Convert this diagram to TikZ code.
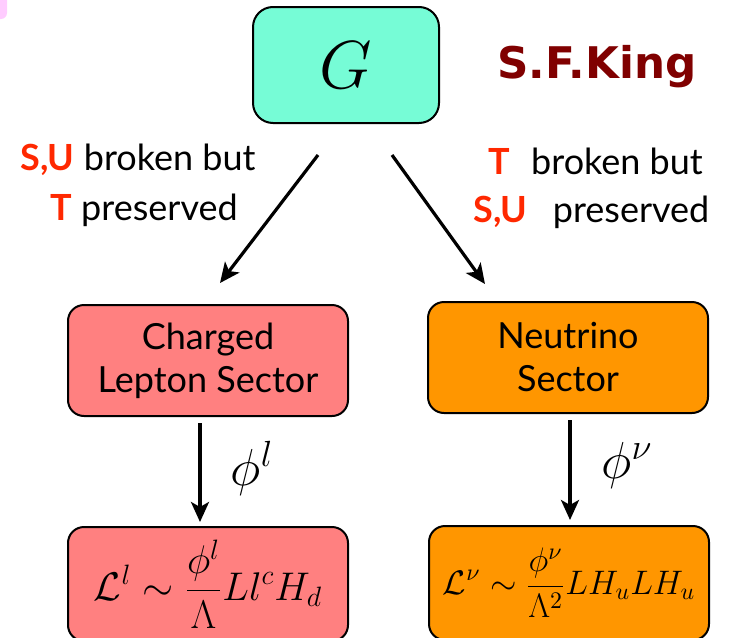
\RequirePackage{fix-cm}
\documentclass[tikz,border=0pt]{standalone}
\usepackage{fontspec}
\setmainfont{Lato}
\newfontfamily\kingfont{DejaVu Sans}
\usetikzlibrary{arrows.meta}
\definecolor{groupcol}{RGB}{118,252,214}
\definecolor{leptcol}{RGB}{255,128,128}
\definecolor{nucol}{RGB}{255,150,0}
\definecolor{breakred}{RGB}{255,40,0}
\definecolor{kingred}{RGB}{128,0,0}
\definecolor{tabpink}{RGB}{255,204,255}
\newcommand{\symred}[1]{{\color{breakred}\bfseries #1}}
\tikzset{
  groupbox/.style={draw=black, line width=1pt, fill=groupcol, rounded corners=10pt, minimum width=93pt, minimum height=58pt, inner sep=0pt},
  sectorbox/.style={draw=black, line width=1pt, rounded corners=8pt, minimum width=140pt, minimum height=55.5pt, inner sep=0pt, align=center, font=\fontsize{18}{21.5}\selectfont},
  lagbox/.style={draw=black, line width=1pt, rounded corners=8pt, minimum width=140pt, minimum height=57pt, inner sep=0pt},
  breaktext/.style={anchor=base west, inner sep=0pt, font=\fontsize{18}{21}\selectfont},
  flow/.style={line width=1.6pt, -{Stealth[length=10pt,width=9pt,inset=2.5pt]}},
}

\begin{document}
\begin{tikzpicture}[x=0.5pt,y=-0.5pt]
\useasboundingbox (0,0) rectangle (738,637);
\fill[tabpink, rounded corners=3pt] (-10,-10) rectangle (7,19);
\node[groupbox] (grp) at (346,65) {\fontsize{34}{34}\selectfont$G$};
\node[anchor=base west, inner sep=0pt, text=kingred, font=\kingfont\bfseries\fontsize{21.8}{24}\selectfont] (king) at (497,78) {S.F.King};
\node[breaktext] (lbrk) at (20,170) {\symred{S,U} broken but};
\node[breaktext] (lkeep) at (50,220) {\symred{T} preserved};
\node[breaktext] (rbrk) at (488,174) {\symred{T}\hspace{6pt} broken but};
\node[breaktext] (rkeep) at (473,222) {\symred{S,U}\hspace{8pt} preserved};
\node[sectorbox, fill=leptcol] (chg) at (208,360.5) {Charged\\Lepton Sector};
\node[sectorbox, fill=nucol] (neu) at (568,357.5) {Neutrino\\Sector};
\node[lagbox, fill=leptcol] (lagl) at (208,584) {\fontsize{20}{24}\selectfont$\displaystyle\mathcal{L}^l\sim\frac{\phi^l}{\Lambda}Ll^cH_d$};
\node[lagbox, fill=nucol] (lagn) at (569,583) {\fontsize{17}{20}\selectfont$\displaystyle\mathcal{L}^\nu\sim\frac{\phi^\nu}{\Lambda^2}LH_uLH_u$};
\node (phil) at (252,468) {\fontsize{26}{26}\selectfont$\phi^l$};
\node (phin) at (627,465) {\fontsize{26}{26}\selectfont$\phi^\nu$};
\coordinate (ls) at (318,155);
\coordinate (le) at (220,283);
\coordinate (rs) at (392,155);
\coordinate (re) at (485,284);
\coordinate (lt) at (200,423);
\coordinate (lb) at (200,522);
\coordinate (nt) at (570,420);
\coordinate (nb) at (570,520);
\draw[flow] (ls) -- (le);
\draw[flow] (rs) -- (re);
\draw[flow] (lt) -- (lb);
\draw[flow] (nt) -- (nb);
\end{tikzpicture}
\end{document}
